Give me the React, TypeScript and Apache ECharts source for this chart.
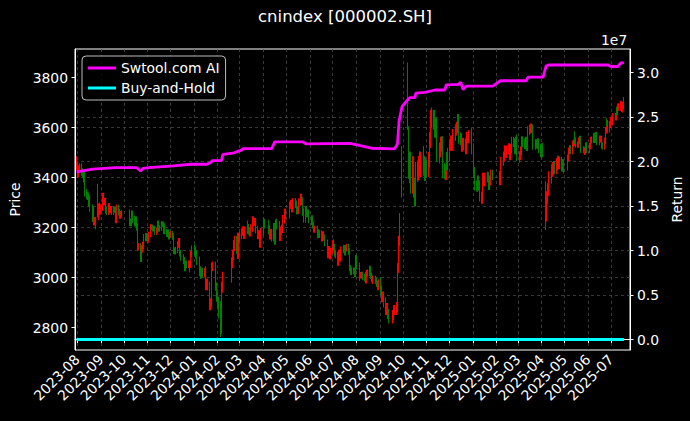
import React, { useEffect, useRef } from 'react';
import * as echarts from 'echarts';

const TITLE = 'cnindex [000002.SH]';
const firstDay = '2023-07-31';
const lastDay = '2025-07-18';
const axisStart = '2023-07-29';
const axisEnd = '2025-07-26';

const holidays = [
  '2023-09-29', '2023-10-02', '2023-10-03', '2023-10-04', '2023-10-05', '2023-10-06',
  '2024-01-01', '2024-02-09', '2024-02-12', '2024-02-13', '2024-02-14', '2024-02-15', '2024-02-16',
  '2024-04-04', '2024-04-05', '2024-05-01', '2024-05-02', '2024-05-03', '2024-06-10',
  '2024-09-16', '2024-09-17', '2024-10-01', '2024-10-02', '2024-10-03', '2024-10-04', '2024-10-07',
  '2025-01-01', '2025-01-28', '2025-01-29', '2025-01-30', '2025-01-31', '2025-02-03', '2025-02-04',
  '2025-04-04', '2025-05-01', '2025-05-02', '2025-05-05', '2025-06-02',
];

const monthKeys = [
  '2023-07', '2023-08', '2023-09', '2023-10', '2023-11', '2023-12',
  '2024-01', '2024-02', '2024-03', '2024-04', '2024-05', '2024-06',
  '2024-07', '2024-08', '2024-09', '2024-10', '2024-11', '2024-12',
  '2025-01', '2025-02', '2025-03', '2025-04', '2025-05', '2025-06', '2025-07',
];

// typical intraday wick length (index points) per month
const monthWick = [
  30, 30, 26, 30, 22, 26,
  34, 44, 30, 34, 30, 26,
  26, 26, 40, 80, 60, 46,
  40, 36, 36, 50, 26, 26, 30,
];

// daily closes, one row per month
const closeRows: number[][] = [
  [3446],
  [3445, 3415, 3434, 3442, 3422, 3413, 3396, 3407, 3339, 3327, 3325, 3298, 3312, 3278, 3237, 3267, 3223, 3227, 3208, 3244, 3282, 3284, 3265],
  [3280, 3326, 3302, 3306, 3269, 3263, 3284, 3284, 3270, 3273, 3263, 3272, 3271, 3255, 3230, 3279, 3261, 3248, 3253, 3256],
  [3221, 3220, 3223, 3253, 3233, 3219, 3229, 3202, 3123, 3123, 3077, 3101, 3114, 3128, 3159, 3163, 3160],
  [3165, 3150, 3172, 3202, 3201, 3195, 3196, 3181, 3189, 3201, 3217, 3194, 3198, 3214, 3212, 3186, 3206, 3184, 3173, 3181, 3163, 3172],
  [3173, 3164, 3112, 3107, 3105, 3110, 3132, 3145, 3107, 3097, 3080, 3068, 3070, 3038, 3055, 3051, 3055, 3034, 3052, 3093, 3115],
  [3101, 3106, 3093, 3067, 3023, 3029, 3012, 3022, 3017, 3022, 3029, 2966, 2979, 2965, 2886, 2900, 2953, 3043, 3047, 3018, 2964, 2920],
  [2901, 2858, 2829, 2920, 2962, 3001, 3047, 3059, 3090, 3128, 3145, 3117, 3157, 3096, 3157],
  [3169, 3182, 3190, 3183, 3169, 3189, 3212, 3199, 3186, 3179, 3198, 3230, 3224, 3222, 3223, 3191, 3168, 3174, 3134, 3151, 3184],
  [3222, 3218, 3213, 3190, 3191, 3169, 3177, 3161, 3201, 3148, 3215, 3218, 3209, 3187, 3163, 3187, 3195, 3233, 3259, 3251],
  [3289, 3296, 3275, 3302, 3303, 3296, 3293, 3267, 3269, 3302, 3320, 3305, 3306, 3262, 3234, 3271, 3256, 3257, 3237, 3232],
  [3223, 3236, 3209, 3192, 3194, 3170, 3180, 3171, 3176, 3157, 3172, 3160, 3149, 3139, 3102, 3090, 3113, 3085, 3106],
  [3136, 3139, 3122, 3096, 3089, 3060, 3098, 3077, 3111, 3111, 3114, 3117, 3101, 3117, 3122, 3104, 3052, 3037, 3023, 3027, 3027, 3014, 3077],
  [3074, 3046, 2999, 3008, 3009, 3010, 3002, 2997, 3008, 2989, 3017, 3019, 3034, 3007, 2995, 2987, 2994, 2994, 2987, 2975, 2962, 2980],
  [2948, 2939, 2921, 2924, 2900, 2870, 2878, 2854, 2850, 2836, 2850, 2870, 2870, 2882, 3003, 3038, 3147, 3238, 3500],
  [3660, 3418, 3464, 3375, 3445, 3359, 3359, 3324, 3422, 3428, 3446, 3464, 3441, 3462, 3485, 3447, 3426, 3440],
  [3432, 3472, 3553, 3549, 3641, 3621, 3640, 3589, 3608, 3545, 3494, 3487, 3510, 3533, 3535, 3427, 3423, 3420, 3472, 3458, 3489],
  [3529, 3545, 3530, 3533, 3571, 3569, 3590, 3600, 3631, 3558, 3552, 3526, 3535, 3536, 3533, 3516, 3560, 3560, 3565, 3567, 3574, 3516],
  [3422, 3368, 3363, 3388, 3388, 3368, 3324, 3315, 3399, 3385, 3396, 3400, 3403, 3402, 3370, 3388, 3411, 3409],
  [3387, 3430, 3465, 3485, 3481, 3510, 3496, 3510, 3519, 3487, 3515, 3515, 3545, 3539, 3511, 3546, 3554, 3484],
  [3478, 3487, 3506, 3547, 3538, 3531, 3545, 3536, 3524, 3587, 3594, 3598, 3595, 3575, 3529, 3535, 3535, 3533, 3539, 3515, 3499],
  [3512, 3514, 3506, 3249, 3320, 3352, 3385, 3400, 3420, 3428, 3437, 3441, 3438, 3453, 3462, 3458, 3459, 3458, 3449, 3448, 3441],
  [3479, 3507, 3516, 3506, 3535, 3539, 3571, 3547, 3532, 3532, 3547, 3554, 3546, 3512, 3510, 3504, 3504, 3528, 3511],
  [3526, 3541, 3550, 3551, 3566, 3551, 3569, 3570, 3542, 3555, 3553, 3554, 3528, 3525, 3547, 3588, 3624, 3617, 3593, 3613],
  [3626, 3624, 3631, 3643, 3643, 3668, 3664, 3681, 3682, 3692, 3677, 3675, 3688, 3707],
];

// days whose open / high / low differ from the previous close
const specialDates = ['2023-07-31', '2023-08-28', '2024-02-05', '2024-02-06', '2024-09-30', '2024-10-08', '2024-10-09', '2024-11-08', '2025-04-07'];
const specialOpens = [3440, 3372, 2900, 2815, 3325, 3855, 3600, 3640, 3380];
const specialHighs = [3485, 3375, 2905, 2925, 3525, 3860, 3605, 3680, 3385];
const specialLows = [3430, 3240, 2762, 2775, 3320, 3590, 3395, 3600, 3190];

// strategy equity curve (Swtool.com AI)
const aiDates = [
  '2023-07-31', '2023-08-21', '2023-09-21', '2023-10-18', '2023-10-23', '2023-10-26', '2023-11-03',
  '2023-12-05', '2023-12-28', '2024-01-18', '2024-01-23', '2024-01-25', '2024-02-06', '2024-02-08',
  '2024-02-21', '2024-03-04', '2024-03-05', '2024-04-12', '2024-04-16', '2024-05-23', '2024-05-27',
  '2024-07-24', '2024-08-21', '2024-09-20', '2024-09-24', '2024-09-26', '2024-09-30', '2024-10-08',
  '2024-10-10', '2024-10-17', '2024-10-18', '2024-10-30', '2024-11-12', '2024-11-25', '2024-11-27',
  '2024-12-13', '2024-12-16', '2024-12-19', '2024-12-23', '2025-01-27', '2025-02-06', '2025-03-12',
  '2025-03-14', '2025-04-03', '2025-04-07', '2025-04-10', '2025-06-27', '2025-07-01', '2025-07-10',
  '2025-07-14', '2025-07-18',
];
const aiValues = [
  18850000, 19150000, 19320000, 19320000, 18950000, 19250000, 19320000,
  19520000, 19710000, 19710000, 19900000, 20110000, 20110000, 20830000,
  20950000, 21320000, 21460000, 21460000, 22220000, 22220000, 21990000,
  22050000, 21510000, 21430000, 22000000, 24500000, 26200000, 27000000,
  27200000, 27200000, 27700000, 27800000, 28060000, 28060000, 28630000,
  28700000, 28930000, 28100000, 28500000, 28500000, 29100000, 29100000,
  29500000, 29500000, 30760000, 30870000, 30870000, 30700000, 30700000,
  31100000, 31150000,
];

const priceTicks = [2800, 3000, 3200, 3400, 3600, 3800];
const returnTicks = [0, 5000000, 10000000, 15000000, 20000000, 25000000, 30000000];

const ts = (s: string) => Date.parse(s + 'T00:00:00Z');
const pad = (n: number) => (n < 10 ? '0' + n : '' + n);

function monthDays(key: string): string[] {
  const [y, m] = key.split('-').map(Number);
  const n = new Date(Date.UTC(y, m, 0)).getUTCDate();
  const out: string[] = [];
  for (let d = 1; d <= n; d++) {
    const s = key + '-' + pad(d);
    const wd = new Date(Date.UTC(y, m - 1, d)).getUTCDay();
    if (wd === 0 || wd === 6) continue;
    if (holidays.indexOf(s) >= 0) continue;
    if (s < firstDay || s > lastDay) continue;
    out.push(s);
  }
  return out;
}

function buildCandles() {
  const out: number[][] = [];
  let prev = closeRows[0][0];
  monthKeys.forEach((k, i) => {
    const days = monthDays(k);
    const row = closeRows[i];
    const w = monthWick[i] / 2;
    const n = Math.min(days.length, row.length);
    for (let j = 0; j < n; j++) {
      const c = row[j];
      let o = prev;
      let lo = Math.min(o, c) - w;
      let hi = Math.max(o, c) + w;
      const si = specialDates.indexOf(days[j]);
      if (si >= 0) {
        o = specialOpens[si];
        lo = Math.min(o, c, specialLows[si]);
        hi = Math.max(o, c, specialHighs[si]);
      }
      out.push([ts(days[j]), o, c, lo, hi]);
      prev = c;
    }
  });
  return out;
}

const FONT = 'DejaVu Sans';

export default function App() {
  const ref = useRef<HTMLDivElement>(null);
  useEffect(() => {
    if (!ref.current) return;
    document.body.style.margin = '0';
    document.body.style.background = '#000';
    const chart = echarts.init(ref.current, null, { renderer: 'svg' });
    const candles = buildCandles();
    const firstClose = candles[0][2];
    const buyHold = candles.map((c) => [c[0], c[2] / firstClose - 1]);
    const ai = aiDates.map((d, i) => [ts(d), aiValues[i]]);
    const grid = { color: '#505050', type: [3, 3] as number[], width: 0.7 };
    const tickStyle = { color: '#ffffff', width: 1 };
    chart.setOption({
      animation: false,
      useUTC: true,
      backgroundColor: '#000000',
      textStyle: { fontFamily: FONT },
      title: {
        text: TITLE,
        left: 'center',
        top: 3,
        textStyle: { color: '#ffffff', fontSize: 16.5, fontWeight: 'normal', fontFamily: FONT },
      },
      legend: {
        data: ['Swtool.com AI', 'Buy-and-Hold'],
        orient: 'vertical',
        left: 82,
        top: 56,
        icon: 'rect',
        itemWidth: 28,
        itemHeight: 3,
        itemGap: 6,
        padding: [5, 6, 5, 6],
        backgroundColor: 'rgba(0,0,0,0.8)',
        borderColor: 'rgba(210,210,210,0.9)',
        borderWidth: 1,
        borderRadius: 4,
        textStyle: { color: '#ffffff', fontSize: 13.9, fontFamily: FONT },
      },
      graphic: [
        {
          type: 'text',
          left: 601,
          top: 33,
          style: { text: '1e7', fill: '#ffffff', font: '13.9px "DejaVu Sans"' },
        },
      ],
      grid: {
        left: 75,
        right: 60,
        top: 49,
        bottom: 71,
        show: true,
        borderColor: '#ffffff',
        borderWidth: 1,
        backgroundColor: 'transparent',
        outerBoundsMode: 'none',
      },
      xAxis: {
        type: 'time',
        min: ts(axisStart),
        max: ts(axisEnd),
        splitNumber: 24,
        minInterval: 28 * 86400000,
        maxInterval: 31 * 86400000,
        axisLine: { show: true, lineStyle: tickStyle },
        axisTick: { show: true, length: 3.5, lineStyle: tickStyle },
        axisLabel: {
          rotate: 45,
          color: '#ffffff',
          fontSize: 13.9,
          fontFamily: FONT,
          margin: 7,
          showMinLabel: false,
          showMaxLabel: false,
          hideOverlap: false,
          formatter: (v: number) => {
            const d = new Date(v);
            return d.getUTCFullYear() + '-' + pad(d.getUTCMonth() + 1);
          },
        },
        splitLine: { show: true, showMinLine: false, showMaxLine: false, lineStyle: grid },
      },
      yAxis: [
        {
          type: 'value',
          position: 'left',
          min: 2710,
          max: 3914,
          splitNumber: 5,
          name: 'Price',
          nameLocation: 'middle',
          nameRotate: 90,
          nameGap: 48,
          nameTextStyle: { color: '#ffffff', fontSize: 13.9, fontFamily: FONT },
          axisLine: { show: true, lineStyle: tickStyle },
          axisTick: { show: true, length: 3.5, lineStyle: tickStyle, customValues: priceTicks },
          axisLabel: {
            color: '#ffffff',
            fontSize: 13.9,
            fontFamily: FONT,
            margin: 7,
            customValues: priceTicks,
            formatter: (v: number) => String(v),
          },
          splitLine: { show: true, showMinLine: false, showMaxLine: false, lineStyle: grid },
        },
        {
          type: 'value',
          position: 'right',
          min: -1180000,
          max: 32670000,
          splitNumber: 5,
          name: 'Return',
          nameLocation: 'middle',
          nameRotate: 90,
          nameGap: 34,
          nameTextStyle: { color: '#ffffff', fontSize: 13.9, fontFamily: FONT },
          axisLine: { show: true, lineStyle: tickStyle },
          axisTick: { show: true, length: 3.5, lineStyle: tickStyle, customValues: returnTicks },
          axisLabel: {
            color: '#ffffff',
            fontSize: 13.9,
            fontFamily: FONT,
            margin: 7,
            customValues: returnTicks,
            formatter: (v: number) => (v / 1e7).toFixed(1),
          },
          splitLine: { show: true, showMinLine: false, showMaxLine: false, lineStyle: grid },
        },
      ],
      series: [
        {
          type: 'candlestick',
          name: 'Price',
          xAxisIndex: 0,
          yAxisIndex: 0,
          data: candles,
          encode: { x: 0, y: [1, 2, 3, 4] },
          barWidth: 1.2,
          itemStyle: {
            color: '#ff0000',
            color0: '#008000',
            borderColor: '#ff0000',
            borderColor0: '#008000',
            borderWidth: 1,
          },
          z: 2,
        },
        {
          type: 'line',
          name: 'Swtool.com AI',
          yAxisIndex: 1,
          data: ai,
          showSymbol: false,
          symbol: 'none',
          color: '#ff00ff',
          lineStyle: { color: '#ff00ff', width: 2.8 },
          z: 4,
        },
        {
          type: 'line',
          name: 'Buy-and-Hold',
          yAxisIndex: 1,
          data: buyHold,
          showSymbol: false,
          symbol: 'none',
          color: '#00ffff',
          lineStyle: { color: '#00ffff', width: 2.8 },
          z: 4,
        },
      ],
    });
    return () => chart.dispose();
  }, []);
  return <div ref={ref} style={{ position: 'fixed', left: 0, top: 0, width: 690, height: 421 }} />;
}
